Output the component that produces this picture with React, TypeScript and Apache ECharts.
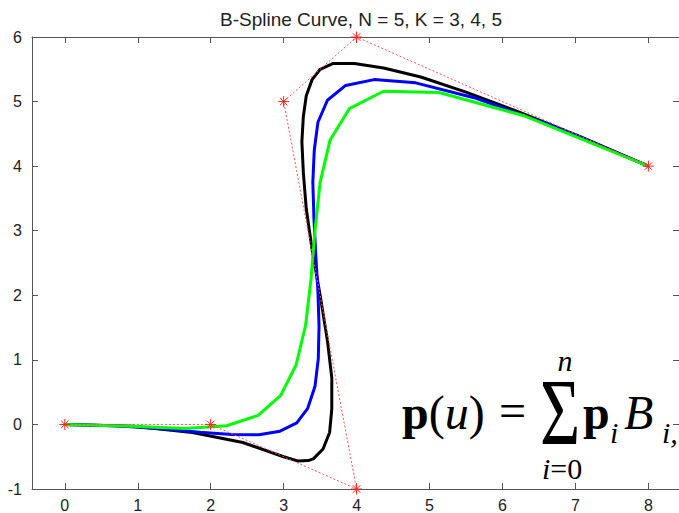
import React, { useEffect, useRef } from "react";
import * as echarts from "echarts";

const titleText = "B-Spline Curve, N = 5, K = 3, 4, 5";
const xTickValues = [0, 1, 2, 3, 4, 5, 6, 7, 8];

const controlPoints: [number, number][] = [
  [0, 0], [2, 0], [4, -1], [3, 5], [4, 6], [8, 4],
];

// K = 3 curve (black)
const curveK3: [number, number][] = [
  [0, 0], [0.94, -0.03], [1.75, -0.125], [2.44, -0.28], [3.0, -0.5],
  [3.19, -0.565], [3.34, -0.56], [3.41, -0.53], [3.54, -0.38], [3.63, -0.125],
  [3.66, 0.24], [3.66, 0.72], [3.6, 1.3], [3.5, 2.0], [3.39, 2.71],
  [3.31, 3.34], [3.27, 3.9], [3.25, 4.38], [3.27, 4.77], [3.31, 5.09],
  [3.39, 5.34], [3.5, 5.5], [3.68, 5.59], [3.97, 5.59], [4.37, 5.52],
  [4.88, 5.38], [5.49, 5.15], [6.22, 4.84], [7.06, 4.46], [8, 4],
];

// K = 4 curve (blue)
const curveK4: [number, number][] = [
  [0, 0], [0.7, -0.02], [1.32, -0.066], [1.85, -0.12], [2.29, -0.156],
  [2.66, -0.16], [2.95, -0.105], [3.18, 0.024], [3.33, 0.25], [3.43, 0.59],
  [3.475, 1.02], [3.485, 1.52], [3.47, 2.06], [3.44, 2.63], [3.415, 3.2],
  [3.4, 3.75], [3.42, 4.25], [3.47, 4.68], [3.6, 5.02], [3.85, 5.25],
  [4.24, 5.34], [4.81, 5.29], [5.61, 5.06], [6.66, 4.64], [8, 4],
];

// K = 5 curve (green)
const curveK5: [number, number][] = [
  [0, 0], [0.91, -0.03], [1.64, -0.062], [2.22, -0.021], [2.65, 0.14],
  [2.96, 0.45], [3.17, 0.92], [3.3, 1.53], [3.375, 2.25], [3.43, 3.01],
  [3.5, 3.75], [3.635, 4.4], [3.9, 4.89], [4.37, 5.16], [5.13, 5.14],
  [6.3, 4.78], [8, 4],
];

const asterisk =
  "path://M5,0L5,10M0,5L10,5M1.6,1.6L8.4,8.4M1.6,8.4L8.4,1.6";

const serif = '"Liberation Serif", "Times New Roman", serif';

function txt(
  text: string,
  x: number,
  y: number,
  size: number,
  opts: { weight?: string; italic?: boolean; align?: string; scaleX?: number } = {}
) {
  const align = opts.align || "left";
  return {
    type: "text",
    x,
    y,
    scaleX: opts.scaleX || 1,
    z: 100,
    style: {
      text,
      fontFamily: serif,
      fontSize: size,
      fontWeight: opts.weight || "normal",
      fontStyle: opts.italic ? "italic" : "normal",
      fill: "#000",
      align,
      verticalAlign: "middle",
      textAlign: align,
      textVerticalAlign: "middle",
    },
  };
}

export default function App() {
  const ref = useRef<HTMLDivElement>(null);

  useEffect(() => {
    if (!ref.current) return;
    const chart = echarts.init(ref.current, undefined, { renderer: "svg" });
    const axisColor = "#555";
    const labelColor = "#222";
    const labelFont = '"Liberation Sans", Arial, sans-serif';

    const xCommon = {
      type: "value" as const,
      min: -0.45,
      max: 8.42,
      axisLine: { show: true, onZero: false, lineStyle: { color: axisColor, width: 1 } },
      splitLine: { show: false },
    };
    const yCommon = {
      type: "value" as const,
      min: -1,
      max: 6,
      interval: 1,
      axisLine: { show: true, onZero: false, lineStyle: { color: axisColor, width: 1 } },
      splitLine: { show: false },
    };

    chart.setOption({
      animation: false,
      backgroundColor: "#fff",
      title: {
        text: titleText,
        left: 356,
        top: 5,
        textAlign: "center",
        textStyle: {
          fontFamily: labelFont,
          fontSize: 19,
          fontWeight: "normal",
          color: "#222",
        },
      },
      grid: { left: 32, top: 37, width: 648, height: 452, containLabel: false },
      xAxis: [
        {
          ...xCommon,
          position: "bottom",
          axisTick: {
            show: true,
            inside: true,
            length: 6,
            customValues: xTickValues,
            lineStyle: { color: axisColor },
          },
          axisLabel: {
            show: true,
            customValues: xTickValues,
            margin: 8,
            color: labelColor,
            fontSize: 16,
            fontFamily: labelFont,
          },
        },
        {
          ...xCommon,
          position: "top",
          axisTick: {
            show: true,
            inside: true,
            length: 6,
            customValues: xTickValues,
            lineStyle: { color: axisColor },
          },
          axisLabel: { show: false },
        },
      ],
      yAxis: [
        {
          ...yCommon,
          position: "left",
          axisTick: { show: true, inside: true, length: 6, lineStyle: { color: axisColor } },
          axisLabel: {
            show: true,
            margin: 10,
            color: labelColor,
            fontSize: 16,
            fontFamily: labelFont,
          },
        },
        {
          ...yCommon,
          position: "right",
          axisTick: { show: true, inside: true, length: 6, lineStyle: { color: axisColor } },
          axisLabel: { show: false },
        },
      ],
      series: [
        {
          name: "K = 3",
          type: "line",
          data: curveK3,
          showSymbol: false,
          symbol: "none",
          lineStyle: { color: "#000000", width: 3 },
          z: 2,
        },
        {
          name: "K = 4",
          type: "line",
          data: curveK4,
          showSymbol: false,
          symbol: "none",
          lineStyle: { color: "#0000ff", width: 3 },
          z: 3,
        },
        {
          name: "K = 5",
          type: "line",
          data: curveK5,
          showSymbol: false,
          symbol: "none",
          lineStyle: { color: "#00ff00", width: 3 },
          z: 4,
        },
        {
          name: "Control polygon",
          type: "line",
          data: controlPoints,
          symbol: asterisk,
          symbolSize: 11,
          showSymbol: true,
          itemStyle: { color: "rgba(255,0,0,0)", borderColor: "#ff2020", borderWidth: 1 },
          lineStyle: { color: "#ff5050", width: 1, type: [2, 2] },
          z: 5,
        },
      ],
      graphic: [
        {
          type: "text",
          x: 402,
          y: 412,
          z: 100,
          style: {
            text: "{b|p}{r|(}{i|u}{r|)}",
            align: "left",
            verticalAlign: "middle",
            textAlign: "left",
            textVerticalAlign: "middle",
            rich: {
              b: { fontFamily: serif, fontSize: 48, fontWeight: "bold", fill: "#000" },
              r: { fontFamily: serif, fontSize: 48, fill: "#000" },
              i: { fontFamily: serif, fontSize: 48, fontStyle: "italic", fill: "#000" },
            },
          },
        },
        txt("=", 499, 410, 48),
        txt("Σ", 560, 412, 96, { align: "center", scaleX: 0.72 }),
        txt("n", 565, 360, 30, { italic: true, align: "center" }),
        {
          type: "text",
          x: 562,
          y: 468,
          z: 100,
          style: {
            text: "{i|i}{n|=0}",
            align: "center",
            verticalAlign: "middle",
            textAlign: "center",
            textVerticalAlign: "middle",
            rich: {
              i: { fontFamily: serif, fontSize: 30, fontStyle: "italic", fill: "#000" },
              n: { fontFamily: serif, fontSize: 30, fill: "#000" },
            },
          },
        },
        txt("p", 583, 412, 48, { weight: "bold" }),
        txt("i", 610, 432, 30, { italic: true }),
        txt("B", 624, 412, 48, { italic: true }),
        txt("i,", 662, 432, 30, { italic: true }),
      ],
    });

    return () => chart.dispose();
  }, []);

  return (
    <div
      ref={ref}
      style={{ position: "fixed", left: 0, top: 0, width: 679, height: 513 }}
    />
  );
}
